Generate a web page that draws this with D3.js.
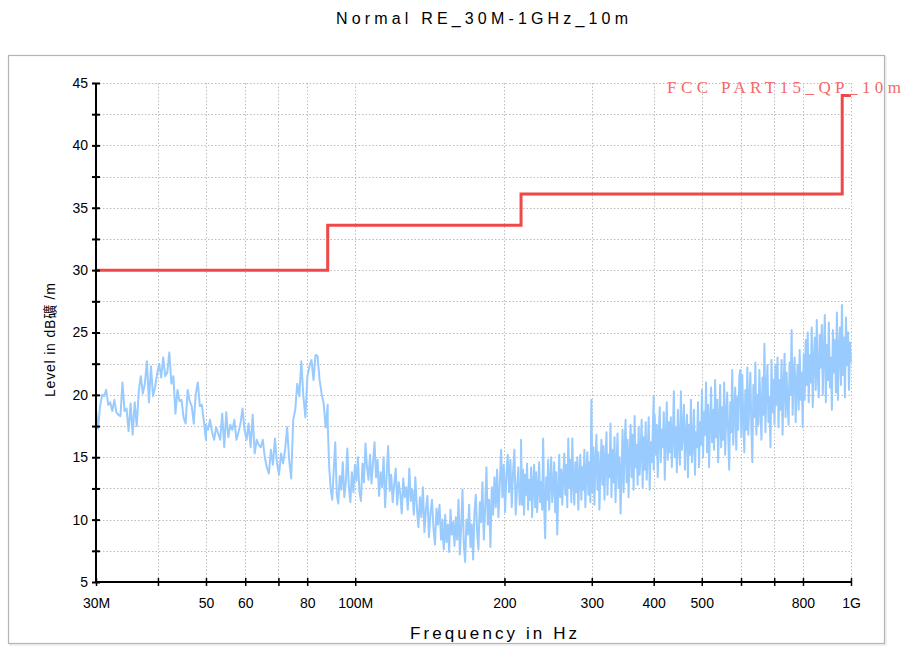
<!DOCTYPE html>
<html>
<head>
<meta charset="utf-8">
<script src="https://cdn.jsdelivr.net/npm/d3@7"></script>
<style>
  html, body { margin: 0; padding: 0; background: #fff; }
  svg { display: block; }
</style>
</head>
<body>
<svg id="chart" width="908" height="646"></svg>
<script>
// ---------------- DATA ----------------
const titleText = "Normal RE_30M-1GHz_10m";
const xLabelText = "Frequency in Hz";
const yLabelText = "Level in dB礦 /m";
const legendText = "FCC PART15_QP_10m";

const xDomain = [30, 1000];          // MHz
const yDomain = [5, 45];             // dB
const xTickValues = [30, 40, 50, 60, 70, 80, 100, 200, 300, 400, 500, 600, 700, 800, 1000];
const xTickLabels = {30: "30M", 50: "50", 60: "60", 80: "80", 100: "100M", 200: "200", 300: "300", 400: "400", 500: "500", 800: "800", 1000: "1G"};
const yMajorTicks = [5, 10, 15, 20, 25, 30, 35, 40, 45];
const yMinorTicks = [7.5, 12.5, 17.5, 22.5, 27.5, 32.5, 37.5, 42.5];

// limit line (FCC Part15 QP 10m) : frequency edges (MHz) and levels (dB)
const limitFreqs = [30, 88, 216, 960, 1000];
const limitLevels = [30, 33.6, 36.1, 44.0, 44.0];

const band1Range = [30, 50];
const band1Levels = [18.8, 17.3, 19.1, 20.0, 19.9, 20.4, 19.2, 19.4, 18.7, 19.6, 18.6, 18.4, 18.3, 21.0, 18.7, 18.9, 17.1, 19.3, 16.8, 19.4, 17.5, 20.3, 21.5, 20.1, 20.9, 22.7, 19.4, 22.3, 19.9, 20.6, 21.7, 22.5, 21.4, 23.0, 21.5, 21.8, 23.4, 20.9, 21.5, 18.5, 20.4, 19.5, 19.6, 18.2, 17.7, 20.4, 19.5, 19.1, 17.7, 20.1, 21.0, 19.1, 19.2, 17.8, 16.4];

const band2Range = [50, 88];
const band2Levels = [17.6, 17.2, 18.0, 17.0, 16.4, 17.4, 16.9, 16.4, 18.5, 15.8, 18.6, 16.6, 17.6, 17.2, 18.0, 16.4, 17.0, 17.7, 18.9, 17.2, 16.4, 17.7, 15.8, 18.4, 15.3, 16.4, 16.0, 15.8, 16.4, 15.0, 14.2, 13.7, 15.6, 14.4, 16.5, 14.5, 13.6, 15.3, 14.5, 15.6, 17.4, 14.8, 13.3, 18.0, 18.8, 20.9, 19.9, 22.7, 19.9, 18.2, 21.5, 22.3, 22.8, 21.2, 23.2, 23.1, 21.2, 20.1, 19.3, 17.4, 19.2];

const band3Range = [88, 150];
const band3Levels = [17.7, 14.2, 12.4, 11.6, 14.0, 16.2, 12.0, 11.3, 13.5, 12.4, 14.6, 11.8, 13.0, 15.7, 12.6, 11.4, 13.8, 12.2, 14.4, 13.1, 15.0, 12.2, 11.5, 14.5, 13.0, 16.1, 14.2, 13.2, 15.2, 12.9, 14.6, 16.2, 13.4, 14.8, 11.9, 13.8, 12.6, 15.0, 11.0, 13.5, 15.9, 12.3, 13.6, 11.4, 12.8, 14.1, 11.2, 13.0, 12.1, 10.5, 13.3, 11.8, 12.6, 10.8, 14.1, 11.5, 12.4, 10.4, 13.4, 11.0, 9.4, 11.8, 10.2, 12.6, 9.0, 10.8, 11.9, 8.6, 10.5, 11.6, 9.3, 8.0, 10.9, 9.6, 11.2, 8.4, 10.0];

const band4Range = [150, 216];
const band4Levels = [9.0, 7.6, 10.4, 8.2, 9.6, 7.4, 10.8, 8.8, 9.8, 7.9, 10.2, 8.4, 11.6, 7.2, 9.4, 12.4, 8.0, 6.6, 10.0, 8.8, 11.2, 7.8, 9.6, 6.8, 10.6, 12.0, 9.0, 7.6, 11.4, 9.8, 13.0, 8.4, 10.8, 14.2, 9.6, 11.6, 7.8, 12.6, 10.4, 13.4, 11.0, 14.0, 10.2, 12.8, 15.6, 11.8, 14.4, 10.6, 13.6, 15.2, 12.2, 14.8, 11.0, 13.8, 15.6, 10.4, 12.6, 14.2, 11.2, 13.0];

const band5Range = [216, 400];
const band5Levels = [16.4, 11.2, 14.0, 10.4, 13.6, 12.0, 14.5, 10.8, 13.2, 11.6, 14.2, 10.2, 12.8, 14.4, 11.0, 13.8, 10.6, 12.4, 14.6, 11.4, 13.0, 10.8, 16.5,
  11.0, 8.5, 13.4, 11.6, 14.8, 10.8, 13.0, 15.0, 11.4, 12.6, 14.6, 10.6, 13.8, 8.8, 12.2, 15.2, 11.8, 14.0, 11.2, 13.4, 15.3, 12.0, 14.4, 11.0, 16.5, 12.6, 14.8, 11.4, 16.5, 13.0, 11.2, 14.6, 12.2, 15.0, 10.8, 13.6, 15.2, 11.6, 14.2, 12.4, 15.6, 11.0, 13.8, 15.4, 12.0, 14.6, 11.4,
  19.6, 12.2, 15.8, 11.2, 14.6, 16.8, 12.4, 15.4, 10.8, 14.0, 16.4, 12.8, 15.9, 11.6, 14.8, 17.0, 12.0, 15.2, 13.4, 17.7, 11.8, 15.6, 13.0, 16.6, 11.4, 14.4, 16.9, 12.6, 15.0, 10.5,
  13.6, 17.2, 12.2, 15.8, 18.0, 13.0, 16.4, 11.8, 15.2, 17.6, 13.4, 16.8, 12.4, 18.3, 14.2, 16.0, 12.8, 17.4, 13.6, 15.6, 18.0, 12.6, 16.6, 14.0, 17.8, 13.2, 15.4, 18.2, 12.4, 16.2, 14.6, 17.0, 19.9];

const band6Range = [400, 1000];
const band6Levels = [14.0, 18.4, 15.2, 17.6, 13.4, 16.8, 19.0, 14.6, 17.2, 15.8, 18.6, 13.2, 16.4, 19.4, 14.8, 17.8, 15.4, 18.2, 14.2, 16.6, 20.3, 15.0, 17.4, 13.8, 18.8, 16.0, 14.4, 20.3, 15.6, 17.0, 19.2, 14.0, 16.8, 18.4, 13.4, 17.6, 15.2, 19.6, 14.6, 16.2, 18.8, 13.6, 17.0, 15.8, 19.4, 14.2, 17.8,
  16.0, 20.4, 15.0, 18.6, 16.8, 21.0, 15.4, 19.2, 14.2, 17.6, 20.6, 16.2, 18.8, 15.6, 21.2, 16.6, 19.6, 14.6, 18.0, 20.8, 15.8, 19.0, 16.4, 21.0, 15.2, 18.4, 20.2, 16.8, 14.0, 19.4, 17.0, 22.0, 16.0, 18.8, 20.6, 15.6, 19.8, 17.2, 21.4, 22.0,
  16.6, 21.6, 18.0, 15.4, 20.4, 17.2, 22.2, 16.8, 19.6, 21.8, 17.4, 14.6, 20.8, 18.2, 22.6, 16.8, 20.0, 17.6, 22.0, 19.0, 16.4, 21.4, 18.4, 24.1, 17.0, 20.6, 22.4, 17.8, 19.8, 15.8, 22.8, 18.6, 21.2,
  17.6, 22.4, 19.2, 23.0, 17.4, 21.2, 18.8, 22.8, 16.8, 20.6, 23.3, 18.2, 21.8, 19.4, 17.6, 22.6, 20.0, 25.2, 18.4, 21.4, 23.0, 17.8, 20.8, 22.4, 18.8, 23.6, 19.6, 21.8, 17.4, 23.2,
  19.6, 24.4, 20.8, 25.0, 19.4, 23.2, 21.0, 25.4, 19.0, 22.8, 24.6, 20.4, 26.0, 21.6, 19.8, 24.8, 22.2, 25.6, 20.0, 23.6, 26.4, 19.4, 24.0, 21.2, 25.8, 20.6, 23.0, 18.8, 25.2, 21.8, 24.4, 20.2, 26.6, 19.6, 23.8, 25.4, 20.8, 27.2, 21.6, 24.6, 19.8, 26.2, 22.4, 25.0, 20.4, 24.2, 22.6];

// ---------------- LAYOUT ----------------
const svg = d3.select("#chart");
const plot = {left: 96, right: 851, top: 83, bottom: 582};

const x = d3.scaleLog().domain(xDomain).range([plot.left, plot.right]);
const y = d3.scaleLinear().domain(yDomain).range([plot.bottom, plot.top]);

// frame
svg.append("rect").attr("x", 10).attr("y", 57).attr("width", 876).attr("height", 588)
  .attr("fill", "none").attr("stroke", "#e2e2e2").attr("stroke-width", 1);
svg.append("rect").attr("x", 8.5).attr("y", 55.5).attr("width", 876).attr("height", 588)
  .attr("fill", "#fff").attr("stroke", "#b4b4b4").attr("stroke-width", 1.2);

// title
svg.append("text").attr("x", 336).attr("y", 24)
  .attr("textLength", 292).attr("lengthAdjust", "spacing")
  .style("font-family", "'Liberation Sans', Arial, sans-serif").style("font-size", "16px")
  .attr("fill", "#000").text(titleText);

// grid
const grid = svg.append("g").attr("stroke", "#bdbdbd").attr("stroke-width", 1).attr("stroke-dasharray", "1.5,2");
grid.selectAll("line.h").data(yMajorTicks.concat(yMinorTicks).filter(v => v > yDomain[0]))
  .join("line").attr("class", "h")
  .attr("x1", plot.left).attr("x2", plot.right)
  .attr("y1", d => Math.round(y(d)) + 0.5).attr("y2", d => Math.round(y(d)) + 0.5);
grid.selectAll("line.v").data(xTickValues.filter(v => v > xDomain[0]))
  .join("line").attr("class", "v")
  .attr("y1", plot.top).attr("y2", plot.bottom)
  .attr("x1", d => Math.round(x(d)) + 0.5).attr("x2", d => Math.round(x(d)) + 0.5);

// trace data built from bands
const bands = [
  {range: band1Range, levels: band1Levels},
  {range: band2Range, levels: band2Levels},
  {range: band3Range, levels: band3Levels},
  {range: band4Range, levels: band4Levels},
  {range: band5Range, levels: band5Levels},
  {range: band6Range, levels: band6Levels}
];
const trace = [];
bands.forEach(b => {
  const n = b.levels.length;
  const lf = d3.scaleLinear().domain([0, n - 1]).range([Math.log10(b.range[0]), Math.log10(b.range[1])]);
  b.levels.forEach((v, i) => trace.push({f: Math.pow(10, lf(i)), v: v}));
});

svg.append("clipPath").attr("id", "plotclip").append("rect")
  .attr("x", plot.left).attr("y", plot.top - 20).attr("width", plot.right - plot.left + 1).attr("height", plot.bottom - plot.top + 20);

// limit line
const limitData = limitFreqs.map((f, i) => ({f: f, v: limitLevels[i]}));
svg.append("path").datum(limitData)
  .attr("fill", "none").attr("stroke", "#f04848").attr("stroke-width", 3)
  .attr("d", d3.line().x(d => x(d.f)).y(d => y(d.v)).curve(d3.curveStepAfter));

// trace
svg.append("path").datum(trace)
  .attr("clip-path", "url(#plotclip)")
  .attr("fill", "none").attr("stroke", "#99cbff").attr("stroke-width", 2)
  .attr("stroke-linejoin", "round")
  .attr("d", d3.line().x(d => x(d.f)).y(d => y(d.v)));

// axes
const axisFont = "'Liberation Sans', Arial, sans-serif";
const yAxis = svg.append("g").attr("transform", `translate(${plot.left},0)`)
  .call(d3.axisLeft(y).tickValues(yMajorTicks.concat(yMinorTicks)).tickSize(4).tickPadding(4)
    .tickFormat(d => (d % 5 === 0 ? String(d) : "")));
yAxis.select(".domain").attr("stroke", "#000").attr("stroke-width", 2).attr("d", `M0,${plot.bottom}V${plot.top}`);
yAxis.selectAll(".tick line").attr("x1", 4).attr("stroke", "#000").attr("stroke-width", 2);
yAxis.selectAll(".tick text").style("font-family", axisFont).style("font-size", "14px").attr("fill", "#000");

const xAxis = svg.append("g").attr("transform", `translate(0,${plot.bottom})`)
  .call(d3.axisBottom(x).tickValues(xTickValues).tickSize(4).tickPadding(12)
    .tickFormat(d => xTickLabels[d] || ""));
xAxis.select(".domain").attr("stroke", "#000").attr("stroke-width", 2).attr("d", `M${plot.left},0H${plot.right}`);
xAxis.selectAll(".tick line").attr("y1", -4).attr("stroke", "#000").attr("stroke-width", 1.5);
xAxis.selectAll(".tick text").style("font-family", axisFont).style("font-size", "14px").attr("fill", "#000");

// axis titles
svg.append("text").attr("x", 410).attr("y", 639)
  .attr("textLength", 167).attr("lengthAdjust", "spacing")
  .style("font-family", axisFont).style("font-size", "17px").attr("fill", "#000").text(xLabelText);

svg.append("text").attr("transform", "translate(55,397) rotate(-90)")
  .attr("textLength", 114).attr("lengthAdjust", "spacing")
  .style("font-family", "'Liberation Sans', 'Noto Sans CJK SC', sans-serif").style("font-size", "14px")
  .attr("fill", "#000").text(yLabelText);

// legend label for limit
svg.append("text").attr("x", 667).attr("y", 93)
  .attr("textLength", 234).attr("lengthAdjust", "spacing")
  .style("font-family", "'Liberation Serif', 'DejaVu Serif', serif").style("font-size", "17px")
  .attr("fill", "#f26a6a").text(legendText);
</script>
</body>
</html>
